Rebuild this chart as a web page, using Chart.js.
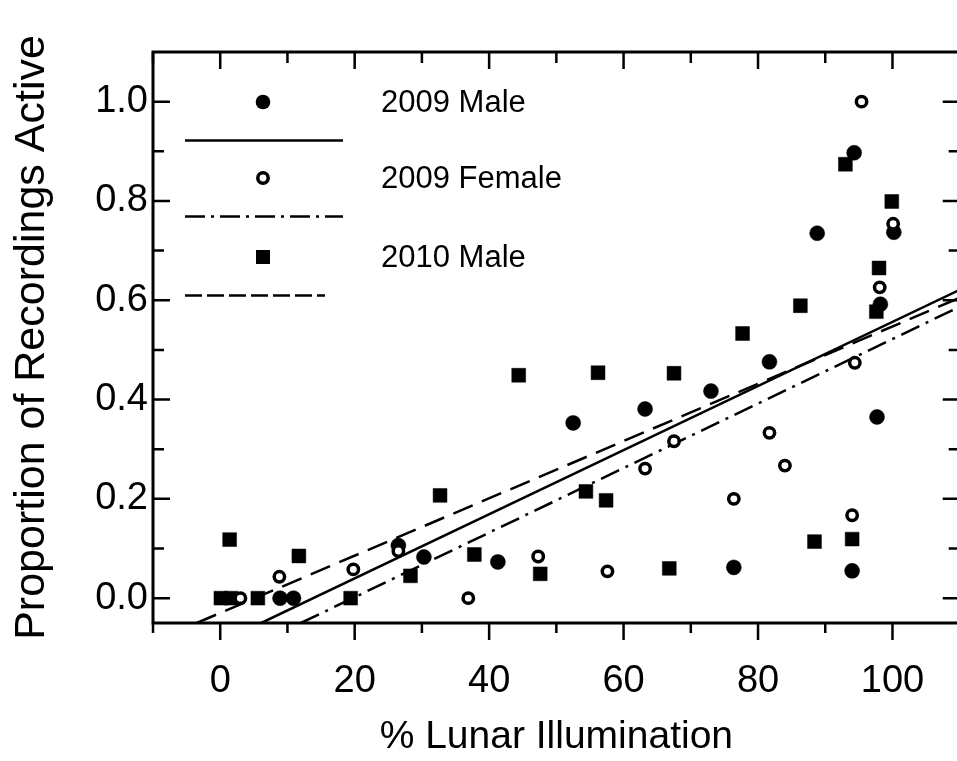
<!DOCTYPE html>
<html>
<head>
<meta charset="utf-8">
<script src="https://cdn.jsdelivr.net/npm/chart.js@4.4.0/dist/chart.umd.min.js"></script>
<style>
  html, body { margin: 0; padding: 0; background: #fff; overflow: hidden; }
  #wrap { width: 970px; height: 761px; }
</style>
</head>
<body>
<div id="wrap"><canvas id="lunarChart"></canvas></div>
<script>
// values: % lunar illumination (x) vs proportion of recordings active (y)
const male2009X = [8.9, 10.9, 26.5, 30.3, 41.3, 52.5, 63.2, 73.0, 76.4, 81.7, 88.8, 94.0, 94.3, 97.7, 98.2, 100.2];
const male2009Y = [0, 0, 0.106, 0.083, 0.073, 0.353, 0.381, 0.417, 0.062, 0.476, 0.735, 0.055, 0.897, 0.365, 0.592, 0.737];

const female2009X = [3.0, 8.8, 19.8, 26.5, 36.9, 47.3, 57.6, 63.2, 67.5, 76.4, 81.7, 84.0, 94.0, 94.4, 95.4, 98.1, 100.1];
const female2009Y = [0, 0.043, 0.058, 0.095, 0, 0.084, 0.054, 0.261, 0.316, 0.200, 0.333, 0.267, 0.167, 0.474, 1.0, 0.626, 0.754];

const male2010X = [0.1, 1.6, 1.4, 5.6, 11.7, 19.4, 28.3, 32.7, 37.8, 44.4, 47.6, 54.4, 56.2, 57.4, 66.8, 67.5, 77.7, 86.3, 88.4, 93.0, 94.0, 97.6, 98.0, 99.9];
const male2010Y = [0, 0, 0.118, 0, 0.085, 0, 0.045, 0.207, 0.088, 0.449, 0.049, 0.215, 0.454, 0.197, 0.060, 0.453, 0.533, 0.589, 0.114, 0.874, 0.119, 0.577, 0.665, 0.799];

// regression lines, endpoints
const fitMale2009X = [6.1, 110];
const fitMale2009Y = [-0.05, 0.621];
const fitFemale2009X = [12.0, 110];
const fitFemale2009Y = [-0.05, 0.587];
const fitMale2010X = [-3.5, 110];
const fitMale2010Y = [-0.05, 0.605];

const legendLabels = ['2009 Male', '2009 Female', '2010 Male'];

const xTickValues = [0, 20, 40, 60, 80, 100];
const xMinorValues = [-10, 10, 30, 50, 70, 90, 110];
const yTickValues = [0, 0.2, 0.4, 0.6, 0.8, 1.0];
const yMinorValues = [0.1, 0.3, 0.5, 0.7, 0.9];

const FONT = '"Liberation Sans", Arial, sans-serif';

function pts(xs, ys) {
  return xs.map((x, i) => ({ x: x, y: ys[i] }));
}

// frame with inward ticks (outward on the bottom axis)
const frameTicks = {
  id: 'frameTicks',
  beforeDatasetsDraw(chart) {
    const { ctx, chartArea: a, scales } = chart;
    const xs = scales.x, ys = scales.y;
    ctx.save();
    ctx.strokeStyle = '#000';
    ctx.lineWidth = 3;
    ctx.lineCap = 'butt';
    ctx.beginPath();
    ctx.moveTo(a.left, a.top); ctx.lineTo(a.right, a.top);
    ctx.moveTo(a.left, a.bottom); ctx.lineTo(a.right, a.bottom);
    ctx.moveTo(a.left, a.top - 1.5); ctx.lineTo(a.left, a.bottom + 1.5);
    ctx.moveTo(a.right, a.top - 1.5); ctx.lineTo(a.right, a.bottom + 1.5);
    ctx.stroke();

    ctx.lineWidth = 2.5;
    ctx.beginPath();
    const xTick = (v, lenIn, lenOut) => {
      const px = xs.getPixelForValue(v);
      ctx.moveTo(px, a.bottom); ctx.lineTo(px, a.bottom + lenOut);
      ctx.moveTo(px, a.top); ctx.lineTo(px, a.top + lenIn);
    };
    xTickValues.forEach(v => xTick(v, 17, 17));
    xMinorValues.forEach(v => xTick(v, 11, 10));
    const yTick = (v, len) => {
      const py = ys.getPixelForValue(v);
      ctx.moveTo(a.left, py); ctx.lineTo(a.left + len, py);
      ctx.moveTo(a.right, py); ctx.lineTo(a.right - len, py);
    };
    yTickValues.forEach(v => yTick(v, 17));
    yMinorValues.forEach(v => yTick(v, 11));
    ctx.stroke();
    ctx.restore();
  }
};

// legend: marker row, then line sample row, text to the right of the marker
const sketchLegend = {
  id: 'sketchLegend',
  afterDraw(chart) {
    const { ctx, chartArea: a } = chart;
    const mx = a.left + 110;
    const lx0 = a.left + 32, lx1 = a.left + 190;
    const tx = a.left + 228;
    const rows = [
      { y: a.top + 50, marker: 'disc', dash: [], lineEnd: lx1 },
      { y: a.top + 126, marker: 'ring', dash: [20, 6, 3, 6], lineEnd: lx1 },
      { y: a.top + 205, marker: 'square', dash: [17, 5], lineEnd: a.left + 172 }
    ];
    ctx.save();
    ctx.fillStyle = '#000';
    ctx.strokeStyle = '#000';
    rows.forEach((r, i) => {
      // marker
      ctx.setLineDash([]);
      if (r.marker === 'disc') {
        ctx.beginPath(); ctx.arc(mx, r.y, 7.3, 0, Math.PI * 2); ctx.fill();
      } else if (r.marker === 'ring') {
        ctx.lineWidth = 3.5;
        ctx.beginPath(); ctx.arc(mx, r.y, 5.2, 0, Math.PI * 2); ctx.stroke();
      } else {
        ctx.fillRect(mx - 7, r.y - 7, 14, 14);
      }
      // line sample
      ctx.lineWidth = 2.5;
      ctx.setLineDash(r.dash);
      ctx.beginPath();
      ctx.moveTo(lx0, r.y + 38.5);
      ctx.lineTo(r.lineEnd, r.y + 38.5);
      ctx.stroke();
      // text
      ctx.font = '31px ' + FONT;
      ctx.textAlign = 'left';
      ctx.textBaseline = 'middle';
      ctx.fillText(legendLabels[i], tx, r.y + 1);
    });
    ctx.restore();
  }
};

const ctx = document.getElementById('lunarChart').getContext('2d');

new Chart(ctx, {
  type: 'scatter',
  data: {
    datasets: [
      {
        label: legendLabels[1],
        data: pts(female2009X, female2009Y),
        pointStyle: 'circle',
        pointRadius: 5.2,
        pointBorderWidth: 3.5,
        backgroundColor: '#fff',
        borderColor: '#000',
        order: 0
      },
      {
        label: legendLabels[0],
        data: pts(male2009X, male2009Y),
        pointStyle: 'circle',
        pointRadius: 7.5,
        pointBorderWidth: 0.5,
        backgroundColor: '#000',
        borderColor: '#000',
        order: 1
      },
      {
        label: legendLabels[2],
        data: pts(male2010X, male2010Y),
        pointStyle: 'rect',
        pointRadius: 9.8,
        pointBorderWidth: 0.5,
        backgroundColor: '#000',
        borderColor: '#000',
        order: 2
      },
      {
        label: 'fit 2009 Male',
        data: pts(fitMale2009X, fitMale2009Y),
        showLine: true,
        pointRadius: 0,
        borderColor: '#000',
        borderWidth: 2.5,
        order: 3
      },
      {
        label: 'fit 2009 Female',
        data: pts(fitFemale2009X, fitFemale2009Y),
        showLine: true,
        pointRadius: 0,
        borderColor: '#000',
        borderWidth: 2.5,
        borderDash: [20, 7, 3, 7],
        order: 4
      },
      {
        label: 'fit 2010 Male',
        data: pts(fitMale2010X, fitMale2010Y),
        showLine: true,
        pointRadius: 0,
        borderColor: '#000',
        borderWidth: 2.5,
        borderDash: [21, 10],
        order: 5
      }
    ]
  },
  options: {
    responsive: true,
    maintainAspectRatio: false,
    animation: false,
    layout: { padding: { left: 0, right: 7, top: 52, bottom: 0 } },
    plugins: {
      legend: { display: false },
      tooltip: { enabled: false }
    },
    scales: {
      x: {
        type: 'linear',
        min: -10,
        max: 110,
        grid: { display: false, drawTicks: false },
        border: { display: false },
        afterBuildTicks: s => { s.ticks = xTickValues.map(v => ({ value: v })); },
        afterFit: s => { s.height = 138; },
        ticks: {
          color: '#000',
          padding: 36,
          maxRotation: 0,
          autoSkip: false,
          font: { family: FONT, size: 38 },
          callback: v => String(v)
        },
        title: {
          display: true,
          text: '% Lunar Illumination',
          color: '#000',
          font: { family: FONT, size: 39 },
          padding: { top: 0, bottom: 0 }
        }
      },
      y: {
        type: 'linear',
        min: -0.05,
        max: 1.1,
        grid: { display: false, drawTicks: false },
        border: { display: false },
        afterBuildTicks: s => { s.ticks = yTickValues.map(v => ({ value: v })); },
        afterFit: s => { s.width = 153; },
        ticks: {
          color: '#000',
          padding: 5,
          autoSkip: false,
          font: { family: FONT, size: 38 },
          callback: v => v.toFixed(1)
        },
        title: {
          display: true,
          text: 'Proportion of Recordings Active',
          color: '#000',
          font: { family: FONT, size: 43 },
          padding: { top: 6, bottom: 0 }
        }
      }
    }
  },
  plugins: [frameTicks, sketchLegend]
});
</script>
</body>
</html>
